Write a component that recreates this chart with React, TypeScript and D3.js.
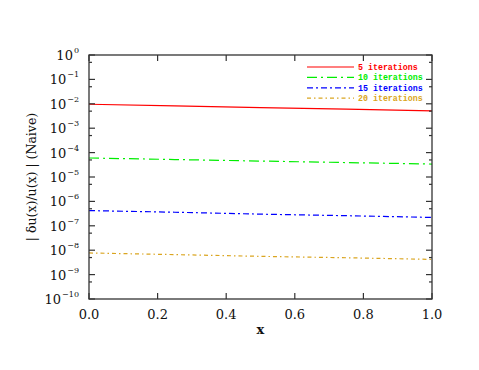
import * as d3 from "d3";

const xs = [0, 0.25, 0.5, 0.75, 1.0];
const labels = ["5 iterations", "10 iterations", "15 iterations", "20 iterations"];
const colors = ["#ff0000", "#00ee00", "#0000ff", "#daa520"];
const dashes = ["none", "10,4,2,4", "6,3,2,3", "4,3,1.5,3"];
const iter5 = [9.6e-3, 8.2e-3, 7.0e-3, 6.0e-3, 5.1e-3];
const iter10 = [6.0e-5, 5.2e-5, 4.5e-5, 3.9e-5, 3.4e-5];
const iter15 = [4.2e-7, 3.6e-7, 3.0e-7, 2.6e-7, 2.2e-7];
const iter20 = [7.7e-9, 6.6e-9, 5.6e-9, 4.9e-9, 4.2e-9];
const series = [iter5, iter10, iter15, iter20];
const xTicks = [0, 0.2, 0.4, 0.6, 0.8, 1.0];
const yExps = [0, -1, -2, -3, -4, -5, -6, -7, -8, -9, -10];

const W = 479, H = 370;
const margin = { left: 89, right: 47, top: 55, bottom: 71 };

export default function App() {
  const x = d3.scaleLinear().domain([0, 1]).range([margin.left, W - margin.right]);
  const y = d3.scaleLog().domain([1e-10, 1]).range([H - margin.bottom, margin.top]);
  const line = d3.line<number>().x((_, i) => x(xs[i])).y(d => y(d));
  const minor = yExps.slice(1).map(e => 5 * Math.pow(10, e));
  const x0 = x(0), x1 = x(1), y0 = y(1e-10), y1 = y(1);
  const serif = "'DejaVu Serif', serif";
  const tick = "#333";

  return (
    <svg width={W} height={H} style={{ position: "absolute", left: 0, top: 0, background: "#fff" }}>
      {series.map((s, i) => (
        <path key={i} d={line(s) || ""} fill="none" stroke={colors[i]} strokeWidth={1.2}
          strokeDasharray={dashes[i]} />
      ))}
      <rect x={x0} y={y1} width={x1 - x0} height={y0 - y1} fill="none" stroke={tick} strokeWidth={1.3} />
      {xTicks.map(t => (
        <g key={t}>
          <line x1={x(t)} x2={x(t)} y1={y0} y2={y0 - 6} stroke={tick} strokeWidth={1.2} />
          <line x1={x(t)} x2={x(t)} y1={y1} y2={y1 + 6} stroke={tick} strokeWidth={1.2} />
          <text x={x(t)} y={y0 + 20} textAnchor="middle" fontFamily={serif} fontSize={13} fill="#111">
            {t.toFixed(1)}
          </text>
        </g>
      ))}
      {yExps.map(e => {
        const v = Math.pow(10, e);
        return (
          <g key={e}>
            <line x1={x0} x2={x0 + 6} y1={y(v)} y2={y(v)} stroke={tick} strokeWidth={1.2} />
            <line x1={x1} x2={x1 - 6} y1={y(v)} y2={y(v)} stroke={tick} strokeWidth={1.2} />
            <text x={79} y={y(v) + 5} textAnchor="end" fontFamily={serif} fontSize={13} fill="#111">
              10<tspan dx={1} dy={-7} fontSize={8}>{e === 0 ? "0" : "\u2212" + (-e)}</tspan>
            </text>
          </g>
        );
      })}
      {minor.map((v, i) => (
        <g key={i}>
          <line x1={x0} x2={x0 + 3} y1={y(v)} y2={y(v)} stroke={tick} strokeWidth={1.2} />
          <line x1={x1} x2={x1 - 3} y1={y(v)} y2={y(v)} stroke={tick} strokeWidth={1.2} />
        </g>
      ))}
      <text x={x(0.5)} y={H - 36} textAnchor="middle" fontFamily={serif} fontSize={13} fontWeight="bold" fill="#111">x</text>
      <text transform={`translate(36, ${(y0 + y1) / 2}) rotate(-90)`} textAnchor="middle" fontFamily={serif}
        fontSize={12.5} fill="#111">
        | δu(x)/u(x) |  (Naive)
      </text>
      {labels.map((l, i) => {
        const ly = 67 + i * 10.4;
        return (
          <g key={l}>
            <line x1={307} x2={354} y1={ly} y2={ly} stroke={colors[i]} strokeWidth={1.2} strokeDasharray={dashes[i]} />
            <text x={358} y={ly + 3} fontFamily="'Liberation Mono', monospace" fontWeight="bold" fontSize={8.3}
              fill={colors[i]}>{l}</text>
          </g>
        );
      })}
    </svg>
  );
}
